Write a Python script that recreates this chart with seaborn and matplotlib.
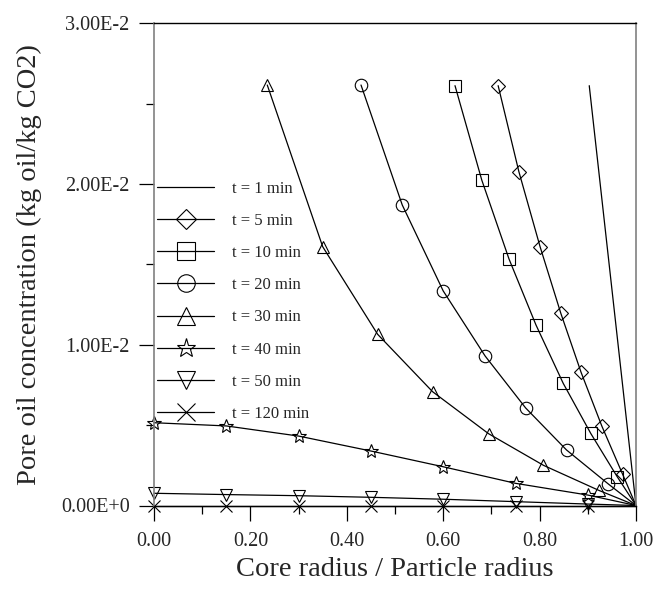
import matplotlib
matplotlib.use("Agg")
import matplotlib.pyplot as plt
from matplotlib.lines import Line2D
import seaborn as sns
import pandas as pd

# ---- data ----
t1_x = [0.903, 1.0]
t1_y = [0.02612, 0.0]

t5_x = [0.714, 0.757, 0.801, 0.844, 0.886, 0.929, 0.972, 1.0]
t5_y = [0.02612, 0.02077, 0.01610, 0.01196, 0.00829, 0.00495, 0.00196, 0.0]

t10_x = [0.6245, 0.680, 0.7365, 0.7925, 0.849, 0.906, 0.961, 1.0]
t10_y = [0.02612, 0.02025, 0.01534, 0.01123, 0.00760, 0.00449, 0.00179, 0.0]

t20_x = [0.4295, 0.515, 0.600, 0.687, 0.771, 0.856, 0.9425, 1.0]
t20_y = [0.02616, 0.01870, 0.01335, 0.00930, 0.00607, 0.00345, 0.00134, 0.0]

t30_x = [0.235, 0.350, 0.464, 0.578, 0.694, 0.808, 0.923, 1.0]
t30_y = [0.02616, 0.01610, 0.01065, 0.00708, 0.00447, 0.00250, 0.00094, 0.0]

t40_x = [0.0, 0.15, 0.30, 0.45, 0.60, 0.75, 0.90, 1.0]
t40_y = [0.00515, 0.00495, 0.00432, 0.00339, 0.00241, 0.00138, 0.00065, 0.0]

t50_x = [0.0, 0.15, 0.30, 0.45, 0.60, 0.75, 0.90, 1.0]
t50_y = [0.00076, 0.00068, 0.00061, 0.00051, 0.00039, 0.00024, 0.00009, 0.0]

t120_x = [0.0, 0.15, 0.30, 0.45, 0.60, 0.75, 0.90, 1.0]
t120_y = [0.0, 0.0, 0.0, 0.0, 0.0, 0.0, 0.0, 0.0]

series_labels = ["t = 1 min", "t = 5 min", "t = 10 min", "t = 20 min",
                 "t = 30 min", "t = 40 min", "t = 50 min", "t = 120 min"]

x_ticks = [0.0, 0.2, 0.4, 0.6, 0.8, 1.0]
x_ticklabels = ["0.00", "0.20", "0.40", "0.60", "0.80", "1.00"]
x_minor = [0.1, 0.3, 0.5, 0.7, 0.9]
y_ticks = [0.0, 0.01, 0.02, 0.03]
y_ticklabels = ["0.00E+0", "1.00E-2", "2.00E-2", "3.00E-2"]
y_minor = [0.005, 0.015, 0.025]

# ---- style ----
sns.set_style("white")
plt.rcParams["font.family"] = ["Liberation Serif", "DejaVu Serif"]

fig = plt.figure(figsize=(6.56, 5.96), dpi=100)
ax = fig.add_axes([154 / 656, 1 - 505.5 / 596, (636 - 154) / 656, (505.5 - 23.3) / 596])

xs = [t1_x, t5_x, t10_x, t20_x, t30_x, t40_x, t50_x, t120_x]
ys = [t1_y, t5_y, t10_y, t20_y, t30_y, t40_y, t50_y, t120_y]
markers = [None, "D", "s", "o", "^", "*", "v", "x"]
msizes = [0, 7.0, 9.0, 9.0, 9.0, 10.0, 9.0, 9.0]

handles = []
for x, y, m, ms, lab in zip(xs, ys, markers, msizes, series_labels):
    df = pd.DataFrame({"x": x, "y": y})
    kw = dict(color="black", linewidth=0.9)
    if m is not None:
        kw.update(marker=m, markersize=ms, markerfacecolor="none",
                  markeredgecolor="black", markeredgewidth=0.8,
                  markevery=slice(0, len(x) - 1))
    sns.lineplot(data=df, x="x", y="y", ax=ax, legend=False, sort=False,
                 estimator=None, clip_on=False, **kw)
    hk = dict(color="black", linewidth=0.9)
    if m is not None:
        hk.update(marker=m, markersize=ms * 1.4, markerfacecolor="none",
                  markeredgecolor="black", markeredgewidth=0.8)
    handles.append(Line2D([], [], label=lab, **hk))

ax.set_xlim(0, 1.0)
ax.set_ylim(0, 0.03)
ax.set_xticks(x_ticks)
ax.set_xticklabels(x_ticklabels)
ax.set_xticks(x_minor, minor=True)
ax.set_yticks(y_ticks)
ax.set_yticklabels(y_ticklabels)
ax.set_yticks(y_minor, minor=True)

ax.tick_params(axis="both", which="major", direction="out", length=11,
               width=0.9, color="black", labelsize=14.5)
ax.tick_params(axis="x", which="major", pad=8)
ax.tick_params(axis="y", which="major", pad=6.5)
ax.tick_params(axis="both", which="minor", direction="out", length=6,
               width=0.9, color="black")
ax.tick_params(bottom=True, left=True, top=False, right=False)
ax.tick_params(which="minor", bottom=True, left=True, top=False, right=False)

for side in ["left", "right"]:
    ax.spines[side].set_color("#808080")
    ax.spines[side].set_linewidth(1.2)
for side in ["top", "bottom"]:
    ax.spines[side].set_color("black")
    ax.spines[side].set_linewidth(1.0)

ax.set_xlabel("Core radius / Particle radius", fontsize=20.5, labelpad=4.5)
ax.set_ylabel("Pore oil concentration (kg oil/kg CO2)", fontsize=20.5, labelpad=14)

leg = ax.legend(handles=handles, loc="upper left",
                bbox_to_anchor=(3.3 / 482, 1 - (186.7 - 23.3 - 6) / 482.2),
                frameon=False, fontsize=12, handlelength=3.4,
                handletextpad=1.1, labelspacing=0.97, borderpad=0,
                borderaxespad=0, numpoints=1)

fig.savefig("out.png", dpi=100)
